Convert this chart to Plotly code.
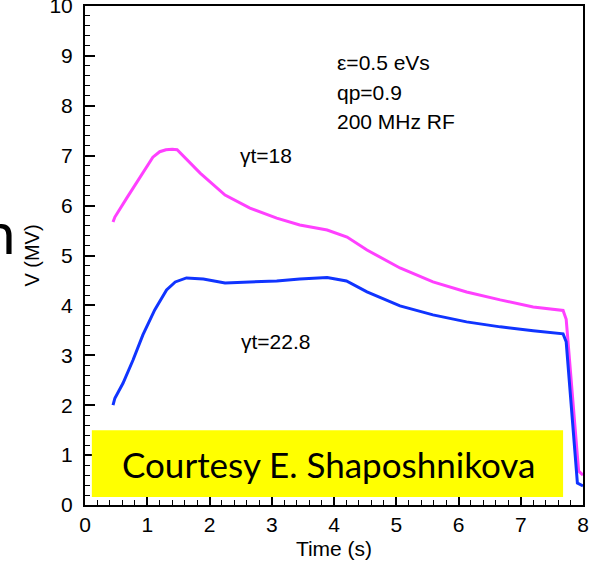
import plotly.graph_objects as go

# gamma_t = 18 (magenta)
t_18 = [0.45, 0.48, 0.67, 0.88, 1.09, 1.20, 1.30, 1.40, 1.48, 1.85, 2.25, 2.65, 3.08, 3.45,
        3.89, 4.21, 4.53, 5.06, 5.59, 6.13, 6.67, 7.20, 7.68, 7.73, 7.93, 8.00]
v_18 = [5.67, 5.77, 6.15, 6.57, 6.97, 7.08, 7.12, 7.13, 7.12, 6.65, 6.21, 5.95, 5.75, 5.61,
        5.51, 5.37, 5.11, 4.75, 4.47, 4.27, 4.11, 3.97, 3.90, 3.72, 0.68, 0.60]

# gamma_t = 22.8 (blue)
t_228 = [0.45, 0.48, 0.61, 0.77, 0.93, 1.12, 1.31, 1.45, 1.63, 1.90, 2.25, 2.65, 3.08, 3.45,
         3.89, 4.20, 4.53, 5.06, 5.59, 6.13, 6.67, 7.20, 7.68, 7.73, 7.91, 8.00]
v_228 = [2.00, 2.14, 2.44, 2.90, 3.41, 3.91, 4.31, 4.47, 4.55, 4.53, 4.45, 4.47, 4.49, 4.53,
         4.56, 4.49, 4.27, 3.99, 3.81, 3.67, 3.57, 3.49, 3.43, 3.27, 0.44, 0.38]

x_ticks = [0, 1, 2, 3, 4, 5, 6, 7, 8]
y_ticks = [0, 1, 2, 3, 4, 5, 6, 7, 8, 9, 10]

FONT = "Liberation Sans, Arial, sans-serif"

fig = go.Figure()
fig.add_trace(go.Scatter(x=t_18, y=v_18, mode="lines",
                         line=dict(color="#FF40FF", width=3), showlegend=False))
fig.add_trace(go.Scatter(x=t_228, y=v_228, mode="lines",
                         line=dict(color="#1034FF", width=3), showlegend=False))

axis_common = dict(
    showgrid=False, zeroline=False, showline=True, linecolor="black", linewidth=2,
    mirror=True, ticks="inside", tickcolor="black", tickwidth=1.5,
    ticklabeloverflow="allow", automargin=False,
    tickfont=dict(family=FONT, size=21, color="black"),
)

fig.update_xaxes(range=[0, 8], tickvals=x_ticks, ticklen=8,
                 minor=dict(dtick=0.2, ticks="inside", ticklen=5, tickcolor="black", tickwidth=1),
                 title=dict(text="Time (s)", font=dict(family=FONT, size=21, color="black"), standoff=6),
                 **axis_common)
fig.update_yaxes(range=[0, 10], tickvals=y_ticks, ticklen=10, ticklabelstandoff=6,
                 minor=dict(dtick=0.2, ticks="inside", ticklen=5, tickcolor="black", tickwidth=1),
                 title=dict(text="V (MV)", font=dict(family=FONT, size=20, color="black"), standoff=4),
                 **axis_common)

# yellow courtesy box
fig.add_shape(type="rect", xref="x", yref="y", x0=0.11, x1=7.68, y0=0.16, y1=1.50,
              fillcolor="#FFFF00", line=dict(width=0), layer="above")

ann_font = dict(family=FONT, size=21, color="black")
annotations = [
    dict(x=4.02, y=8.86, text="ε=0.5 eVs"),
    dict(x=4.02, y=8.26, text="qp=0.9"),
    dict(x=4.02, y=7.68, text="200 MHz RF"),
    dict(x=2.46, y=7.01, text="γt=18"),
    dict(x=2.48, y=3.27, text="γt=22.8"),
]
for a in annotations:
    fig.add_annotation(xref="x", yref="y", xanchor="left", yanchor="middle",
                       showarrow=False, font=ann_font, **a)

fig.add_annotation(xref="x", yref="y", x=3.91, y=0.83, xanchor="center", yanchor="middle",
                   text="Courtesy E. Shaposhnikova", showarrow=False,
                   font=dict(family="Lato, Open Sans, sans-serif", size=35, color="black"))

# partial slide letter at left edge
fig.add_annotation(xref="paper", yref="paper", x=-0.1365, y=0.548, xanchor="right",
                   yanchor="middle", text="n", showarrow=False,
                   font=dict(family="Lato, sans-serif", size=58, color="black"))

fig.update_layout(
    width=598, height=561,
    margin=dict(l=85, r=15, t=6, b=56, autoexpand=False),
    paper_bgcolor="white", plot_bgcolor="white",
)

fig.write_html("out.html")
